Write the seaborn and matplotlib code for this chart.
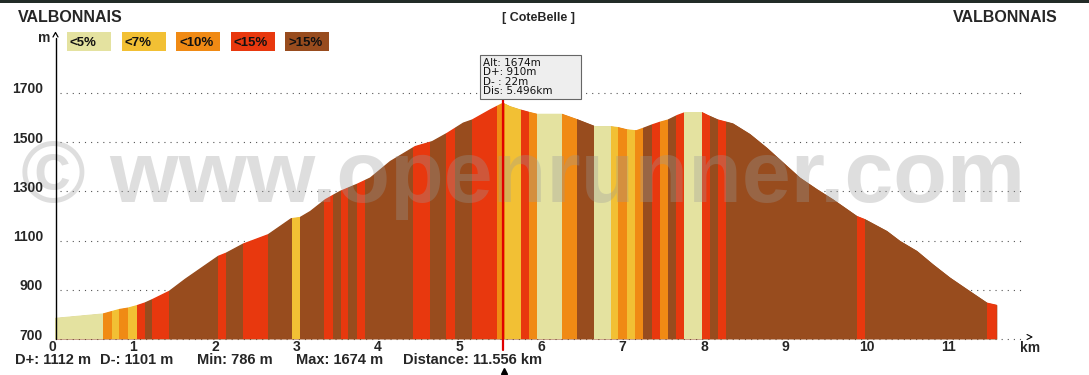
import matplotlib
matplotlib.use("Agg")
import matplotlib.pyplot as plt
from matplotlib.patches import Rectangle
import pandas as pd
import seaborn as sns

# ==============================
# data
# ==============================
dist_km = [0.000, 0.589, 0.785, 0.896, 1.006, 1.104, 1.190, 1.399, 1.595, 2.000,
           2.098, 2.307, 2.613, 2.761, 2.896, 3.006, 3.129, 3.313, 3.497, 3.706,
           3.865, 4.110, 4.417, 4.626, 4.810, 5.006, 5.117, 5.337, 5.496, 5.583,
           5.706, 5.816, 5.914, 6.221, 6.417, 6.626, 6.810, 6.908, 7.018, 7.129,
           7.215, 7.325, 7.423, 7.521, 7.632, 7.730, 7.939, 8.012, 8.135, 8.319,
           8.528, 8.736, 9.141, 9.350, 9.546, 9.840, 9.939, 10.209, 10.368, 10.577,
           10.773, 10.982, 11.190, 11.436, 11.556]
alt_m = [786, 804, 822, 828, 838, 849, 862, 896, 945, 1038,
         1051, 1088, 1126, 1160, 1191, 1196, 1220, 1268, 1302, 1331,
         1356, 1423, 1484, 1504, 1538, 1579, 1592, 1633, 1660, 1646,
         1633, 1623, 1615, 1615, 1592, 1565, 1565, 1561, 1552, 1548,
         1558, 1572, 1583, 1592, 1610, 1622, 1622, 1610, 1592, 1576,
         1533, 1477, 1356, 1309, 1268, 1200, 1187, 1139, 1099, 1058,
         1004, 950, 903, 848, 839]

# slope bands: edges in km, class index of each band
band_edges = [0.000, 0.589, 0.699, 0.785, 0.896, 1.006, 1.104, 1.190, 1.399, 2.000,
              2.098, 2.307, 2.613, 2.908, 3.006, 3.301, 3.411, 3.509, 3.595, 3.706,
              3.804, 4.393, 4.601, 4.798, 4.908, 5.117, 5.423, 5.521, 5.718, 5.816,
              5.914, 6.221, 6.405, 6.613, 6.822, 6.908, 7.018, 7.117, 7.215, 7.325,
              7.423, 7.521, 7.620, 7.718, 7.939, 8.037, 8.135, 8.233, 9.840, 9.939,
              11.436, 11.556]
band_class = [0, 2, 1, 2, 1, 3, 4, 3, 4, 3, 4, 3, 4, 1, 4, 3, 4, 3, 4, 3,
              4, 3, 4, 3, 4, 3, 2, 1, 3, 2, 0, 2, 4, 0, 1, 2, 1, 2, 4, 3,
              2, 4, 3, 0, 3, 4, 3, 4, 3, 4, 3]

slope_labels = ['<5%', '<7%', '<10%', '<15%', '>15%']
slope_colors = ['#E4E2A0', '#F2C034', '#F08A14', '#E8380E', '#984C1E']

alt_ticks = [700, 900, 1100, 1300, 1500, 1700]
km_ticks = list(range(12))

start_name = 'VALBONNAIS'
end_name = 'VALBONNAIS'
route_name = '[ CoteBelle ]'

cursor_km = 5.496
cursor_info = ['Alt: 1674m', 'D+: 910m', 'D- : 22m', 'Dis: 5.496km']
stats = ['D+: 1112 m', 'D-: 1101 m', 'Min: 786 m', 'Max: 1674 m', 'Distance: 11.556 km']

# ==============================
# layout (pixels of the 1089x375 image)
# ==============================
W, H = 1089, 375
X0, KM_PX = 55, 81.5       # km 0 at x=55, 81.5 px per km
Y700, M_PX = 339, 0.2462   # 700 m at y=339


def px(km):
    return X0 + km * KM_PX


def py(alt):
    return Y700 - (alt - 700) * M_PX


sns.set_style('white')
plt.rcParams['font.family'] = ['Liberation Sans', 'DejaVu Sans']

fig = plt.figure(figsize=(W / 100, H / 100), dpi=100, facecolor='white')
ax = fig.add_axes([0, 0, 1, 1])

prof = pd.DataFrame({'km': dist_km, 'alt': alt_m})
sns.lineplot(data=prof, x='km', y='alt', ax=ax, color=slope_colors[4], lw=0, zorder=2)
area = ax.fill_between(prof['km'], 700, prof['alt'], color=slope_colors[4], lw=0, zorder=2)
clip = area.get_paths()[0]
for x0, x1, c in zip(band_edges[:-1], band_edges[1:], band_class):
    span = ax.axvspan(x0, x1, color=slope_colors[c], lw=0, zorder=3, antialiased=False)
    span.set_clip_path(clip, ax.transData)

# dotted grid behind the profile
ax.hlines(alt_ticks, (60 - X0) / KM_PX, (1025 - X0) / KM_PX, colors='#555555',
          linestyles=(0, (1, 4.5)), lw=0.8, zorder=1)

ax.set_xlim(-X0 / KM_PX, (W - X0) / KM_PX)
ax.set_ylim(700 - (H - Y700) / M_PX, 700 + Y700 / M_PX)
ax.axis('off')

# overlay in pixel coordinates for texts and decorations
ov = fig.add_axes([0, 0, 1, 1], zorder=5)
ov.set_xlim(0, W)
ov.set_ylim(H, 0)
ov.axis('off')
ov.patch.set_visible(False)

ov.add_patch(Rectangle((0, 0), W, 2.5, color='#222C28', lw=0))

# watermark
ov.text(21, 202, '\u00a9 www.openrunner.com', fontsize=63.3, fontweight='bold',
        color='#9A9A9A', alpha=0.32, ha='left', va='baseline', zorder=1)

# titles
ov.text(18, 21.5, start_name, fontsize=11.5, fontweight='bold', ha='left', va='baseline')
ov.text(1058, 21.5, end_name, fontsize=11.5, fontweight='bold', ha='right', va='baseline')
ov.text(538, 20.5, route_name, fontsize=9, fontweight='bold', ha='center', va='baseline')

# legend
for i, (lab, col) in enumerate(zip(slope_labels, slope_colors)):
    x = 67 + i * 54.6
    ov.add_patch(Rectangle((x, 32), 44, 18.5, color=col, lw=0))
    ov.text(x + 3, 46.5, lab, fontsize=9.5, fontweight='bold', color='#111111',
            ha='left', va='baseline')

# axes
ov.plot([55.5, 55.5], [38, 339], color='black', lw=1)
ov.plot([53, 55.5, 58], [37, 32.5, 37], color='black', lw=0.9)
ov.text(50, 41.5, 'm', fontsize=10, fontweight='bold', ha='right', va='baseline')
ov.plot([1027, 1032, 1027], [334.5, 337, 339.5], color='black', lw=0.8)
ov.text(1030, 351.5, 'km', fontsize=10, fontweight='bold', ha='center', va='baseline')

for a in alt_ticks:
    ov.text(43, py(a) + 0.5, str(a), fontsize=10, fontweight='bold', ha='right', va='baseline')
for k in km_ticks:
    ov.text(px(k) - 3, 351, str(k), fontsize=10, fontweight='bold', ha='center', va='baseline')

# bottom stats
for x, s in zip([15, 100, 197, 296, 403], stats):
    ov.text(x, 363.5, s, fontsize=10.5, fontweight='bold', ha='left', va='baseline')

# cursor and tooltip
cx = px(cursor_km)
ov.plot([cx, cx], [99, 350], color='#E00000', lw=1.6, zorder=6)
ov.plot([cx + 1], [371], marker='^', ms=5, color='black', zorder=6)
ov.add_patch(Rectangle((480, 54.5), 101, 44.5, facecolor='#EEEEEE', edgecolor='#666666',
                       lw=0.8, zorder=7))
for j, line in enumerate(cursor_info):
    ov.text(483, 66 + j * 9.35, line, fontsize=7.5, family='DejaVu Sans', color='#111111',
            ha='left', va='baseline', zorder=8)

fig.savefig('out.png', dpi=100, facecolor='white')
